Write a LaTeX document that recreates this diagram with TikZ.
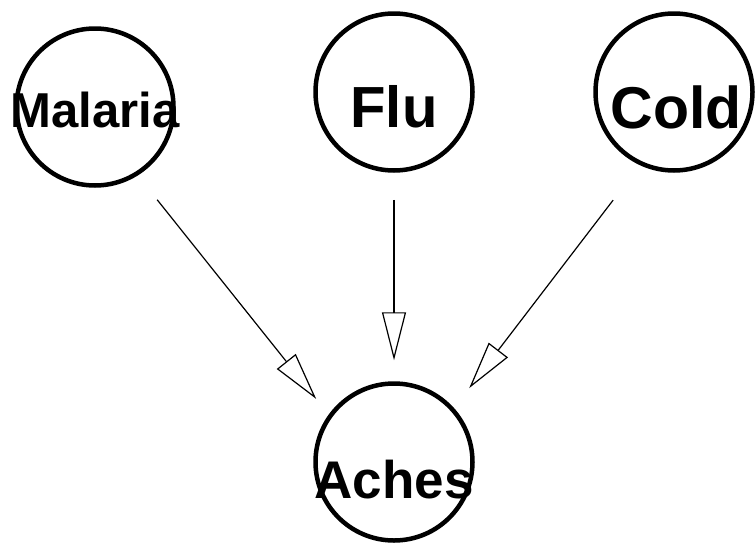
\documentclass[tikz,border=0pt]{standalone}
\usepackage{fontspec}
\setmainfont{Liberation Sans}
\usetikzlibrary{arrows.meta, positioning}

\begin{document}
\begin{tikzpicture}[x=1pt, y=-1pt,
        disease/.style={circle, draw=black, line width=4.5pt, minimum size=157pt, inner sep=0pt},
        lbl/.style={anchor=base, inner sep=0pt},
        link/.style={-{Triangle[open, length=48pt, width=24pt]}, line width=1.2pt}]
                \useasboundingbox (0, 0) rectangle (755, 544);

                % causes on top, symptom below
                \node[disease] (malaria) at (95, 107) {};
                \node[disease] (flu) at (394, 92) {};
                \node[disease] (cold) at (674, 92) {};
                \node[disease] (aches) at (394, 462) {};

                \node[lbl, font=\bfseries\fontsize{49}{50}\selectfont] (malariaText) at ([yshift=-20pt]malaria.center) {Malaria};
                \node[lbl, font=\bfseries\fontsize{58}{60}\selectfont] (fluText) at ([yshift=-35pt]flu.center) {Flu};
                \node[lbl, font=\bfseries\fontsize{59}{60}\selectfont] (coldText) at ([xshift=2pt, yshift=-36pt]cold.center) {Cold};
                \node[lbl, font=\bfseries\fontsize{53}{55}\selectfont] (achesText) at ([yshift=-36pt]aches.center) {Aches};

                \draw[link, shorten <=31pt, shorten >=20pt] (malaria.-58) -- (aches.144);
                \draw[link, shorten <=27pt, shorten >=21pt] (flu.south) -- (aches.north);
                \draw[link, shorten <=44pt, shorten >=25pt] (cold.-115) -- (aches.42);
\end{tikzpicture}
\end{document}
